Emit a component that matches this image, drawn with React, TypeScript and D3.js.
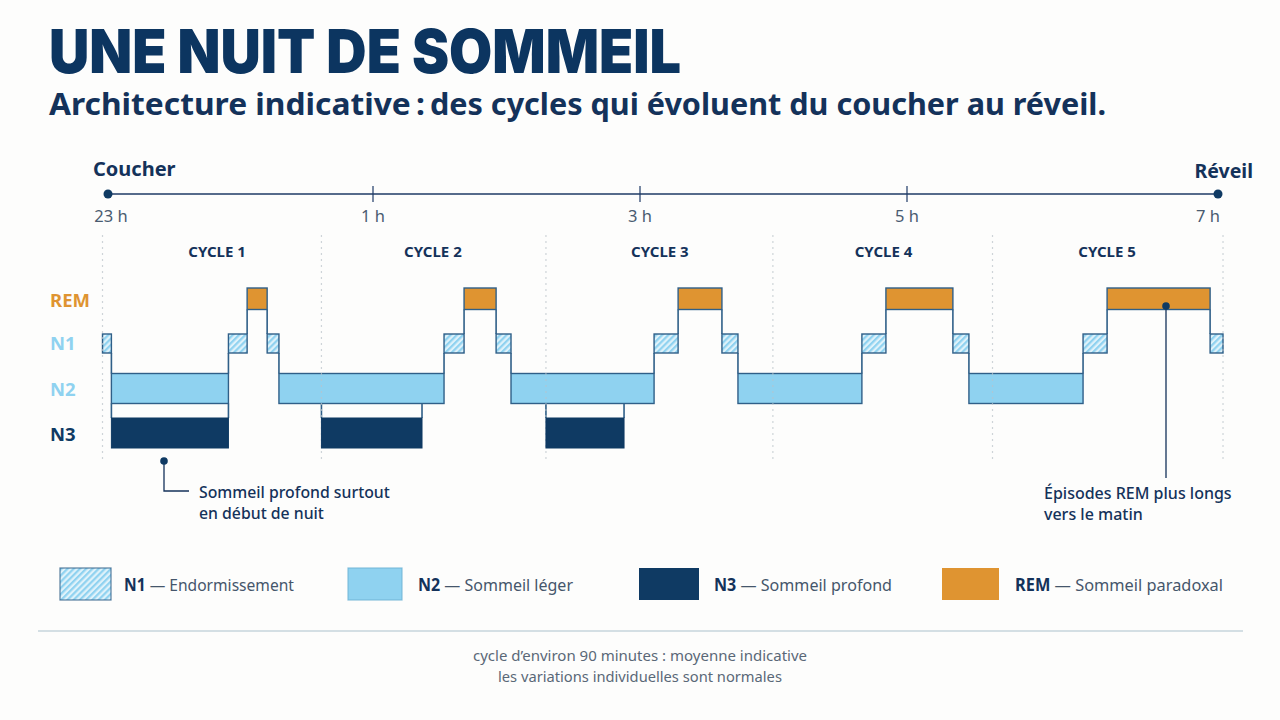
import React from "react";
import * as d3 from "d3";

const stageLabels = ["REM", "N1", "N2", "N3"];
const axisHours = [0, 2, 4, 6, 8];
const axisLabels = ["23 h", "1 h", "3 h", "5 h", "7 h"];
const cycleNames = ["CYCLE 1", "CYCLE 2", "CYCLE 3", "CYCLE 4", "CYCLE 5"];
const cycleBounds = [0, 98.4, 199.3, 301.3, 400, 503.6];
const cycleLabelMinutes = [51.5, 148.5, 250.5, 351, 451.5];

// Main hypnogram path: [stage, start minute, end minute]
const mainStages = ["N1", "N2", "N1", "REM", "N1", "N2", "N1", "REM", "N1", "N2", "N1", "REM", "N1", "N2", "N1", "REM", "N1", "N2", "N1", "REM", "N1"];
const mainEdges = [0, 4, 56.6, 65, 74, 79.3, 153.5, 162.5, 176.9, 183.6, 247.9, 258.7, 278.4, 285.6, 341.3, 352.1, 382.2, 389.4, 440.7, 451.5, 497.8, 503.6];
const deepStarts = [4, 98.4, 199.3];
const deepEnds = [56.6, 143.6, 234.4];

const legendKeys = ["N1", "N2", "N3", "REM"];
const legendNames = ["Endormissement", "Sommeil léger", "Sommeil profond", "Sommeil paradoxal"];

const NAVY = "#0f3a63";
const INK = "#14325a";
const EDGE = "#2f5f88";
const FONT = "'Noto Sans', 'Open Sans', sans-serif";

const x = d3.scaleLinear().domain([0, 500]).range([102.5, 1215]);
const axisX = d3.scaleLinear().domain(axisHours).range([108, 373, 640, 907, 1218]);
const top = d3.scaleOrdinal<string, number>().domain(stageLabels).range([288, 334, 373.5, 418]);
const height = d3.scaleOrdinal<string, number>().domain(stageLabels).range([21.5, 19, 30, 30]);
const fill = d3.scaleOrdinal<string, string>().domain(stageLabels).range(["#df9431", "url(#hatch)", "#8fd2f0", NAVY]);
const labelColor = d3.scaleOrdinal<string, string>().domain(stageLabels).range(["#df9431", "#8fd2f0", "#8fd2f0", NAVY]);
const labelY = d3.scaleOrdinal<string, number>().domain(stageLabels).range([307, 350, 396, 441]);
const bottom = (s: string) => top(s) + height(s);

const legendX = [60, 348, 639, 942];
const legendW = [51, 54, 60, 57];
const legendTextX = [124, 418, 714, 1015];
const legendTextW = [170, 155, 178, 208];

export default function App() {
  const segments = mainStages.map((s, i) => ({ s, a: mainEdges[i], b: mainEdges[i + 1] }));
  const connectors = segments.slice(1).map((seg, i) => {
    const prev = segments[i];
    const upper = top(prev.s) < top(seg.s) ? prev.s : seg.s;
    const lower = upper === prev.s ? seg.s : prev.s;
    return { m: seg.a, y1: bottom(upper), y2: top(lower) };
  });
  return (
    <svg width={1280} height={720} viewBox="0 0 1280 720" style={{ position: "fixed", left: 0, top: 0, background: "#fdfdfc" }} fontFamily={FONT}>
      <defs>
        <pattern id="hatch" width={4.4} height={4.4} patternUnits="userSpaceOnUse" patternTransform="rotate(45)">
          <rect width={4.4} height={4.4} fill="#dff2fa" />
          <rect width={2.2} height={4.4} fill="#8fd2f0" />
        </pattern>
      </defs>

      <text x={49} y={73} fontFamily="Inter, 'Noto Sans', sans-serif" fontSize={61} fontWeight={900} fill="#0c3560" textLength={632} lengthAdjust="spacingAndGlyphs">UNE NUIT DE SOMMEIL</text>
      <text x={49} y={115} fontSize={31} fontWeight={700} fill={INK} textLength={376} lengthAdjust="spacingAndGlyphs">Architecture indicative{"\u202f"}:</text>
      <text x={430} y={115} fontSize={31} fontWeight={700} fill={INK} textLength={676} lengthAdjust="spacingAndGlyphs">des cycles qui évoluent du coucher au réveil.</text>

      {/* time axis */}
      <line x1={axisX(0)} x2={axisX(8)} y1={194} y2={194} stroke="#1e3a66" strokeWidth={1.4} />
      {axisHours.slice(1, -1).map((h) => (
        <line key={h} x1={axisX(h)} x2={axisX(h)} y1={186} y2={202} stroke="#1e3a66" strokeWidth={1.2} />
      ))}
      {[0, 8].map((h) => <circle key={h} cx={axisX(h)} cy={194} r={4.5} fill={NAVY} />)}
      <text x={93} y={176} fontSize={20} fontWeight={700} fill={INK}>Coucher</text>
      <text x={1253} y={178} fontSize={19.5} fontWeight={700} fill={INK} textAnchor="end">Réveil</text>
      {axisLabels.map((t, i) => (
        <text key={t} x={i === 0 ? 111 : i === 4 ? 1208 : axisX(axisHours[i])} y={222} fontSize={16.5} fill="#4a5b70" textAnchor="middle">{t}</text>
      ))}

      {/* cycle labels */}
      {cycleNames.map((c, i) => (
        <text key={c} x={x(cycleLabelMinutes[i])} y={256.5} fontSize={15} fontWeight={700} fill={INK} textAnchor="middle">{c}</text>
      ))}

      {/* stage labels */}
      {stageLabels.map((s) => (
        <text key={s} x={50} y={labelY(s)} fontSize={18.5} fontWeight={700} fill={labelColor(s)}>{s}</text>
      ))}

      {/* connectors */}
      {connectors.map((c, i) => (
        <line key={i} x1={x(c.m)} x2={x(c.m)} y1={c.y1} y2={c.y2} stroke={EDGE} strokeWidth={1.6} />
      ))}
      {deepStarts.flatMap((d, i) => [d, deepEnds[i]]).map((m, i) => (
        <line key={i} x1={x(m)} x2={x(m)} y1={bottom("N2")} y2={top("N3")} stroke={EDGE} strokeWidth={1.6} />
      ))}

      {/* bars */}
      {segments.map((g, i) => (
        <rect key={i} x={x(g.a)} width={x(g.b) - x(g.a)} y={top(g.s)} height={height(g.s)} fill={fill(g.s)} stroke={EDGE} strokeWidth={1.4} />
      ))}

      {/* cycle separators */}
      {cycleBounds.map((m) => (
        <line key={m} x1={x(m)} x2={x(m)} y1={235} y2={461} stroke="#b9c2c9" strokeOpacity={0.7} strokeWidth={1.2} strokeDasharray="2 4" />
      ))}

      {deepStarts.map((d, i) => (
        <rect key={i} x={x(d)} width={x(deepEnds[i]) - x(d)} y={top("N3")} height={height("N3")} fill={NAVY} stroke={NAVY} strokeWidth={1} />
      ))}

      {/* annotations */}
      <path d="M164 461V491H189" fill="none" stroke={INK} strokeWidth={1.3} />
      <circle cx={164} cy={461} r={3.8} fill={NAVY} />
      <text x={199} y={498} fontSize={15.8} fontWeight={500} fill={INK}>Sommeil profond surtout</text>
      <text x={199} y={519} fontSize={15.8} fontWeight={500} fill={INK}>en début de nuit</text>
      <line x1={1166} x2={1166} y1={306} y2={478} stroke={INK} strokeWidth={1.3} />
      <circle cx={1166} cy={306} r={3.8} fill={NAVY} />
      <text x={1044} y={499} fontSize={16} fontWeight={500} fill={INK}>Épisodes REM plus longs</text>
      <text x={1044} y={520} fontSize={16} fontWeight={500} fill={INK}>vers le matin</text>

      {/* legend */}
      {legendKeys.map((k, i) => (
        <g key={k}>
          <rect x={legendX[i]} y={568} width={legendW[i]} height={32} fill={fill(k)} stroke={k === "N1" ? EDGE : k === "N2" ? "#6fb4d6" : "none"} strokeOpacity={0.8} strokeWidth={1.2} />
          <text x={legendTextX[i]} y={591} fontSize={17} fill="#45566b" textLength={legendTextW[i]} lengthAdjust="spacingAndGlyphs">
            <tspan fontWeight={700} fill={INK}>{k}</tspan> — {legendNames[i]}
          </text>
        </g>
      ))}

      <line x1={38} x2={1243} y1={631} y2={631} stroke="#c6d4dc" strokeWidth={1.4} />
      <text x={640} y={661} fontSize={15} fill="#5a6877" textAnchor="middle">cycle d’environ 90 minutes : moyenne indicative</text>
      <text x={640} y={682} fontSize={14.7} fill="#5a6877" textAnchor="middle">les variations individuelles sont normales</text>
    </svg>
  );
}
